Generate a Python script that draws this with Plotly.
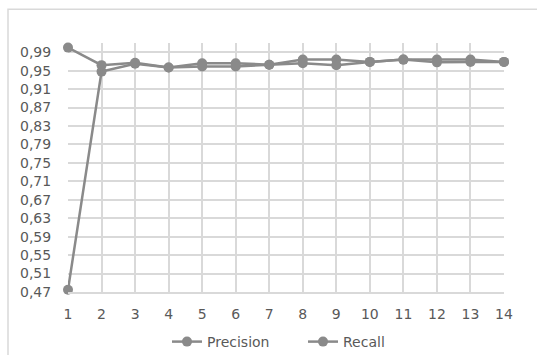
import plotly.graph_objects as go

epochs = list(range(1, 15))
precision = [0.475, 0.948, 0.965, 0.957, 0.966, 0.966, 0.963, 0.974, 0.974, 0.969, 0.974, 0.974, 0.974, 0.969]
recall = [1.000, 0.962, 0.967, 0.957, 0.959, 0.959, 0.963, 0.966, 0.962, 0.969, 0.974, 0.968, 0.969, 0.969]

ytick_vals = [0.47, 0.51, 0.55, 0.59, 0.63, 0.67, 0.71, 0.75, 0.79, 0.83, 0.87, 0.91, 0.95, 0.99]
ytick_text = [f"{v:.2f}".replace(".", ",") for v in ytick_vals]

line_color = "#8a8a8a"
grid_color = "#d9d9d9"
text_color = "#595959"
font_family = "DejaVu Sans, sans-serif"

fig = go.Figure()
for name, vals in [("Precision", precision), ("Recall", recall)]:
    fig.add_trace(go.Scatter(
        x=epochs, y=vals, name=name, mode="lines+markers",
        line=dict(color=line_color, width=2.5),
        marker=dict(color=line_color, size=10),
        cliponaxis=False,
    ))

fig.update_layout(
    width=537, height=355,
    margin=dict(l=68, r=33, t=43, b=63, autoexpand=False),
    paper_bgcolor="white", plot_bgcolor="white",
    font=dict(family=font_family, size=14, color=text_color),
    showlegend=True,
    legend=dict(orientation="h", xref="container", yref="container",
                x=167 / 537, xanchor="left", y=13 / 355, yanchor="middle",
                entrywidth=91, entrywidthmode="pixels",
                font=dict(size=14, color=text_color),
                traceorder="normal"),
    xaxis=dict(range=[1, 14], tickmode="array", tickvals=epochs,
               ticktext=[str(e) for e in epochs], automargin=False,
               showgrid=True, gridcolor=grid_color, gridwidth=1.5,
               zeroline=False, showline=True, linecolor=grid_color, linewidth=1.5,
               ticks="outside", ticklen=8, tickcolor="rgba(0,0,0,0)"),
    yaxis=dict(range=[0.47, 1.01], tickmode="array", tickvals=ytick_vals,
               ticktext=ytick_text, automargin=False,
               showgrid=True, gridcolor=grid_color, gridwidth=1.5,
               zeroline=False, showline=False,
               ticks="outside", ticklen=13, tickcolor="rgba(0,0,0,0)"),
    shapes=[dict(type="rect", xref="paper", yref="paper",
                 x0=-0.1376, x1=1.3, y0=-0.5, y1=1.136,
                 line=dict(color="#d9d9d9", width=1.5), layer="below")],
)

fig.write_html("out.html")
